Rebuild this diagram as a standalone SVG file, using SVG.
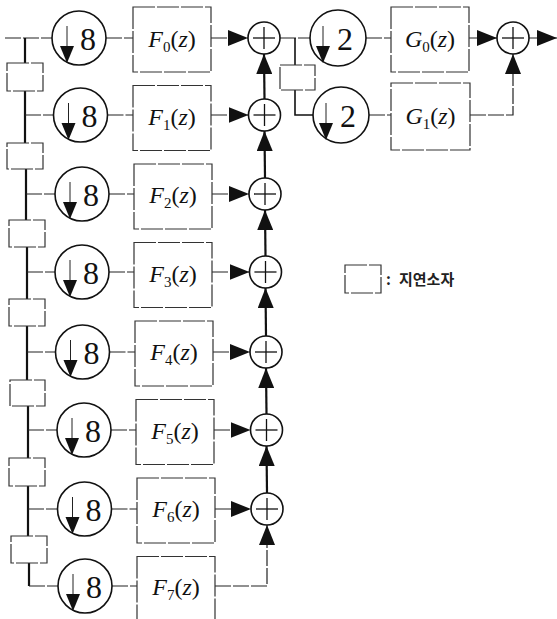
<svg xmlns="http://www.w3.org/2000/svg" xmlns:xlink="http://www.w3.org/1999/xlink" width="557" height="619" viewBox="0 0 557 619">
<style>
.thin{stroke:#222;stroke-width:1.2;fill:none;stroke-dasharray:16 2}
.bold{stroke:#111;stroke-width:2.2;fill:none}
.box{fill:#fff;stroke:#333;stroke-width:1.2;stroke-dasharray:22 2}
.circ{fill:#fff;stroke:#111;stroke-width:1.6}
.plus{stroke:#111;stroke-width:1.3}
.num{font-family:"Liberation Serif",serif;font-size:32px;fill:#111;text-anchor:middle}
.lbl{font-family:"Liberation Serif",serif;font-size:24px;fill:#111;text-anchor:middle}
.it{font-style:italic}
.sub{font-size:15px}
.kr{font-family:"Noto Sans CJK KR",sans-serif;font-size:15px;font-weight:bold;fill:#222}
</style>
<defs>
<marker id="arr" viewBox="0 0 20 16" refX="20" refY="8" markerWidth="20" markerHeight="16" markerUnits="userSpaceOnUse" orient="auto">
<path d="M0,0 L20,8 L0,16 Z" fill="#111"/>
</marker>
<g id="down">
<line x1="-12" y1="-12" x2="-12" y2="9" stroke="#222" stroke-width="1"/>
<path d="M-19,8 L-5,8 L-12,25 Z" fill="#111"/>
</g>
<g id="plus">
<line class="plus" x1="-11" y1="0" x2="11" y2="0"/>
<line class="plus" x1="0" y1="-11" x2="0" y2="11"/>
</g>
</defs>

<g id="connectors">
<line class="thin" x1="5" y1="38" x2="52" y2="38"/>
<line class="bold" x1="25" y1="38" x2="25" y2="63"/>
<line class="bold" x1="25" y1="91" x2="25" y2="143"/>
<line class="thin" x1="25" y1="115" x2="53.5" y2="115"/>
<line class="bold" x1="26" y1="169" x2="26" y2="220"/>
<line class="thin" x1="26" y1="194" x2="55" y2="194"/>
<line class="bold" x1="27" y1="247" x2="27" y2="299"/>
<line class="thin" x1="27" y1="272" x2="55" y2="272"/>
<line class="bold" x1="27" y1="326" x2="27" y2="380"/>
<line class="thin" x1="27" y1="352" x2="55.5" y2="352"/>
<line class="bold" x1="28" y1="406" x2="28" y2="458"/>
<line class="thin" x1="28" y1="430" x2="57" y2="430"/>
<line class="bold" x1="28" y1="486" x2="28" y2="536"/>
<line class="thin" x1="28" y1="509" x2="57.5" y2="509"/>
<line class="bold" x1="29" y1="563" x2="29" y2="586"/>
<line class="thin" x1="29" y1="586" x2="58" y2="586"/>
<line class="thin" x1="106" y1="38" x2="133" y2="38"/>
<line class="thin" x1="107.5" y1="115" x2="133" y2="115"/>
<line class="thin" x1="109" y1="194" x2="134" y2="194"/>
<line class="thin" x1="109" y1="272" x2="134" y2="272"/>
<line class="thin" x1="109.5" y1="352" x2="135" y2="352"/>
<line class="thin" x1="111" y1="430" x2="136" y2="430"/>
<line class="thin" x1="111.5" y1="509" x2="137" y2="509"/>
<line class="thin" x1="112" y1="586" x2="137" y2="586"/>
<line class="thin" x1="211" y1="38" x2="248" y2="38" marker-end="url(#arr)"/>
<line class="thin" x1="211" y1="115" x2="248.5" y2="115" marker-end="url(#arr)"/>
<line class="thin" x1="212" y1="194" x2="249" y2="194" marker-end="url(#arr)"/>
<line class="thin" x1="212" y1="272" x2="249.5" y2="272" marker-end="url(#arr)"/>
<line class="thin" x1="213" y1="352" x2="250" y2="352" marker-end="url(#arr)"/>
<line class="thin" x1="214" y1="430" x2="250.5" y2="430" marker-end="url(#arr)"/>
<line class="thin" x1="215" y1="509" x2="251" y2="509" marker-end="url(#arr)"/>
<polyline class="thin" points="215,586 267,586 267,525" marker-end="url(#arr)"/>
<line class="bold" x1="264.5" y1="99" x2="264" y2="54" marker-end="url(#arr)"/>
<line class="bold" x1="265" y1="178" x2="264.5" y2="131" marker-end="url(#arr)"/>
<line class="bold" x1="265.5" y1="256" x2="265" y2="210" marker-end="url(#arr)"/>
<line class="bold" x1="266" y1="336" x2="265.5" y2="288" marker-end="url(#arr)"/>
<line class="bold" x1="266.5" y1="414" x2="266" y2="368" marker-end="url(#arr)"/>
<line class="bold" x1="267" y1="493" x2="266.5" y2="446" marker-end="url(#arr)"/>
<line class="thin" x1="280" y1="38" x2="310" y2="38"/>
<line class="bold" x1="295" y1="38" x2="295" y2="65" style="stroke-width:1.6"/>
<polyline class="bold" points="295,90 295,115 314,115" style="stroke-width:1.6"/>
<line class="thin" x1="366" y1="38" x2="391" y2="38"/>
<line class="thin" x1="369" y1="115" x2="391" y2="115"/>
<line class="thin" x1="469" y1="38" x2="497" y2="38" marker-end="url(#arr)"/>
<polyline class="thin" points="470,115 513,115 513,54" marker-end="url(#arr)"/>
<line class="thin" x1="529" y1="38" x2="557" y2="38" marker-end="url(#arr)"/>
</g>

<g id="delays">
<rect class="box" x="7" y="63" width="36" height="28"/>
<rect class="box" x="7" y="143" width="36" height="26"/>
<rect class="box" x="9" y="220" width="36" height="27"/>
<rect class="box" x="9" y="299" width="36" height="27"/>
<rect class="box" x="10" y="380" width="35" height="26"/>
<rect class="box" x="9" y="458" width="36" height="28"/>
<rect class="box" x="11" y="536" width="36" height="27"/>
<rect class="box" x="280" y="65" width="35" height="25"/>
</g>

<g id="down0"><circle class="circ" cx="79" cy="38" r="27"/><use xlink:href="#down" x="79" y="38"/><text class="num" x="88" y="50">8</text></g>
<g id="down1"><circle class="circ" cx="80.5" cy="115" r="27"/><use xlink:href="#down" x="80.5" y="115"/><text class="num" x="89.5" y="127">8</text></g>
<g id="down2"><circle class="circ" cx="82" cy="194" r="27"/><use xlink:href="#down" x="82" y="194"/><text class="num" x="91" y="206">8</text></g>
<g id="down3"><circle class="circ" cx="82" cy="272" r="27"/><use xlink:href="#down" x="82" y="272"/><text class="num" x="91" y="284">8</text></g>
<g id="down4"><circle class="circ" cx="82.5" cy="352" r="27"/><use xlink:href="#down" x="82.5" y="352"/><text class="num" x="91.5" y="364">8</text></g>
<g id="down5"><circle class="circ" cx="84" cy="430" r="27"/><use xlink:href="#down" x="84" y="430"/><text class="num" x="93" y="442">8</text></g>
<g id="down6"><circle class="circ" cx="84.5" cy="509" r="27"/><use xlink:href="#down" x="84.5" y="509"/><text class="num" x="93.5" y="521">8</text></g>
<g id="down7"><circle class="circ" cx="85" cy="586" r="27"/><use xlink:href="#down" x="85" y="586"/><text class="num" x="94" y="598">8</text></g>

<g id="F0"><rect class="box" x="133" y="7" width="78" height="65"/><text class="lbl" x="172" y="47"><tspan class="it">F</tspan><tspan class="sub" dy="5">0</tspan><tspan dy="-5">(</tspan><tspan class="it">z</tspan>)</text></g>
<g id="F1"><rect class="box" x="133" y="85.5" width="78" height="65"/><text class="lbl" x="172" y="125"><tspan class="it">F</tspan><tspan class="sub" dy="5">1</tspan><tspan dy="-5">(</tspan><tspan class="it">z</tspan>)</text></g>
<g id="F2"><rect class="box" x="134" y="164" width="78" height="65"/><text class="lbl" x="173" y="203"><tspan class="it">F</tspan><tspan class="sub" dy="5">2</tspan><tspan dy="-5">(</tspan><tspan class="it">z</tspan>)</text></g>
<g id="F3"><rect class="box" x="134" y="242.5" width="78" height="65"/><text class="lbl" x="173" y="282"><tspan class="it">F</tspan><tspan class="sub" dy="5">3</tspan><tspan dy="-5">(</tspan><tspan class="it">z</tspan>)</text></g>
<g id="F4"><rect class="box" x="135" y="321" width="78" height="65"/><text class="lbl" x="174" y="360"><tspan class="it">F</tspan><tspan class="sub" dy="5">4</tspan><tspan dy="-5">(</tspan><tspan class="it">z</tspan>)</text></g>
<g id="F5"><rect class="box" x="136" y="399.5" width="78" height="65"/><text class="lbl" x="175" y="439"><tspan class="it">F</tspan><tspan class="sub" dy="5">5</tspan><tspan dy="-5">(</tspan><tspan class="it">z</tspan>)</text></g>
<g id="F6"><rect class="box" x="137" y="478" width="78" height="65"/><text class="lbl" x="176" y="517"><tspan class="it">F</tspan><tspan class="sub" dy="5">6</tspan><tspan dy="-5">(</tspan><tspan class="it">z</tspan>)</text></g>
<g id="F7"><rect class="box" x="137" y="556.5" width="78" height="65"/><text class="lbl" x="176" y="595"><tspan class="it">F</tspan><tspan class="sub" dy="5">7</tspan><tspan dy="-5">(</tspan><tspan class="it">z</tspan>)</text></g>

<g id="sum0"><circle class="circ" cx="264" cy="38" r="16"/><use xlink:href="#plus" x="264" y="38"/></g>
<g id="sum1"><circle class="circ" cx="264.5" cy="115" r="16"/><use xlink:href="#plus" x="264.5" y="115"/></g>
<g id="sum2"><circle class="circ" cx="265" cy="194" r="16"/><use xlink:href="#plus" x="265" y="194"/></g>
<g id="sum3"><circle class="circ" cx="265.5" cy="272" r="16"/><use xlink:href="#plus" x="265.5" y="272"/></g>
<g id="sum4"><circle class="circ" cx="266" cy="352" r="16"/><use xlink:href="#plus" x="266" y="352"/></g>
<g id="sum5"><circle class="circ" cx="266.5" cy="430" r="16"/><use xlink:href="#plus" x="266.5" y="430"/></g>
<g id="sum6"><circle class="circ" cx="267" cy="509" r="16"/><use xlink:href="#plus" x="267" y="509"/></g>

<g id="down2a"><circle class="circ" cx="338" cy="38" r="28"/><use xlink:href="#down" x="335" y="38"/><text class="num" x="345" y="50">2</text></g>
<g id="down2b"><circle class="circ" cx="341" cy="115" r="28"/><use xlink:href="#down" x="338" y="115"/><text class="num" x="348" y="127">2</text></g>

<g id="G0"><rect class="box" x="391" y="7" width="78" height="65"/><text class="lbl" x="430" y="47"><tspan class="it">G</tspan><tspan class="sub" dy="5">0</tspan><tspan dy="-5">(</tspan><tspan class="it">z</tspan>)</text></g>
<g id="G1"><rect class="box" x="391" y="83" width="79" height="67"/><text class="lbl" x="430.5" y="124"><tspan class="it">G</tspan><tspan class="sub" dy="5">1</tspan><tspan dy="-5">(</tspan><tspan class="it">z</tspan>)</text></g>

<g id="sumOut"><circle class="circ" cx="513" cy="38" r="16"/><use xlink:href="#plus" x="513" y="38"/></g>

<g id="legend">
<rect class="box" x="345" y="265" width="36" height="28"/>
<text class="kr" x="386" y="285">:</text>
<text class="kr" x="399" y="285">지연소자</text>
</g>
</svg>
